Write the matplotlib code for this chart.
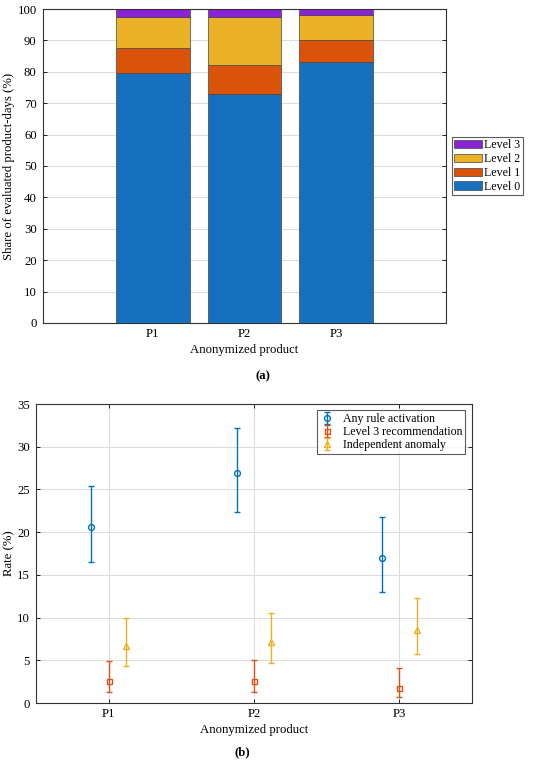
import numpy as np
import matplotlib
matplotlib.use('Agg')
import matplotlib.pyplot as plt

plt.rcParams['font.family'] = ['Liberation Serif', 'DejaVu Serif']

# panel (a) data
products = ['P1', 'P2', 'P3']
level0 = [79.5, 73.0, 83.0]
level1 = [8.2, 9.1, 7.1]
level2 = [9.8, 15.2, 8.1]
level3 = [2.5, 2.7, 1.8]
level_names = ['Level 0', 'Level 1', 'Level 2', 'Level 3']
level_colors = ['#1571C0', '#DA5309', '#ECB227', '#8A22D6']

# panel (b) data
series_names = ['Any rule activation', 'Level 3 recommendation', 'Independent anomaly']
any_rate = [20.6, 26.95, 16.95]
any_lo = [16.5, 22.3, 13.05]
any_hi = [25.35, 32.2, 21.8]
l3_rate = [2.54, 2.58, 1.76]
l3_lo = [1.25, 1.29, 0.74]
l3_hi = [4.92, 5.04, 4.1]
ind_rate = [6.68, 7.15, 8.52]
ind_lo = [4.38, 4.73, 5.78]
ind_hi = [9.96, 10.59, 12.34]
series_colors = ['#0072BD', '#D95319', '#EDB120']
series_markers = ['o', 's', '^']

W, H = 550, 763
fig = plt.figure(figsize=(W / 100, H / 100), dpi=100)

def box(l, t, r, b):
    return [l / W, 1 - b / H, (r - l) / W, (b - t) / H]

def style(ax):
    ax.tick_params(direction='in', top=True, right=True, labelsize=9.2, length=3, width=0.6)
    ax.tick_params(axis='y', pad=4.5)
    for s in ax.spines.values():
        s.set_linewidth(0.8)
        s.set_color('#333333')
    ax.set_axisbelow(True)

# ---- (a) stacked bars
ax1 = fig.add_axes(box(43, 9, 446, 323))
x = np.arange(1, 4)
bottom = np.zeros(3)
handles = []
for vals, name, c in zip([level0, level1, level2, level3], level_names, level_colors):
    h = ax1.bar(x, vals, 0.8, bottom=bottom, color=c, edgecolor='#444444', linewidth=0.5, label=name)
    handles.append(h)
    bottom += np.array(vals)
ax1.set_xlim(-0.2, 4.2)
ax1.set_ylim(0, 100)
ax1.set_yticks(range(0, 101, 10))
ax1.set_xticks(x)
ax1.set_xticklabels(products)
ax1.yaxis.grid(True, color='#dddddd', linewidth=0.8)
style(ax1)
ax1.set_ylabel('Share of evaluated product-days (%)', fontsize=9.2)
ax1.yaxis.set_label_coords((15 - 43) / 403, 0.5)
ax1.set_xlabel('Anonymized product', fontsize=9.2, labelpad=3)
leg = ax1.legend(handles[::-1], level_names[::-1], loc='center left', bbox_to_anchor=(1.015, 0.5),
                 fontsize=8.6, frameon=True, fancybox=False, edgecolor='#333333',
                 borderpad=0.2, labelspacing=0.15, handlelength=2.3, handletextpad=0.2,
                 borderaxespad=0)
leg.get_frame().set_linewidth(0.8)
fig.text(263 / W, 1 - 376 / H, '(a)', ha='center', va='center', fontsize=9.2, fontweight='bold')

# ---- (b) error bars
ax2 = fig.add_axes(box(36, 404, 472, 703))
offsets = [-0.12, 0.0, 0.12]
sizes = [4.2, 3.6, 4.6]
for rate, lo, hi, name, c, m, off, ms in zip([any_rate, l3_rate, ind_rate], [any_lo, l3_lo, ind_lo],
                                             [any_hi, l3_hi, ind_hi], series_names, series_colors,
                                             series_markers, offsets, sizes):
    rate = np.array(rate)
    err = [rate - np.array(lo), np.array(hi) - rate]
    ax2.errorbar(x + off, rate, yerr=err, fmt=m, color=c, markerfacecolor='none',
                 markersize=ms, capsize=2.5, elinewidth=1.0, capthick=1.0,
                 markeredgewidth=1.0, label=name)
ax2.set_xlim(0.5, 3.5)
ax2.set_ylim(0, 35)
ax2.set_yticks(range(0, 36, 5))
ax2.set_xticks(x)
ax2.set_xticklabels(products)
ax2.grid(True, color='#dddddd', linewidth=0.8)
style(ax2)
ax2.set_ylabel('Rate (%)', fontsize=9.2)
ax2.yaxis.set_label_coords((15 - 36) / 436, 0.5)
ax2.set_xlabel('Anonymized product', fontsize=9.2, labelpad=3)
leg2 = ax2.legend(loc='upper right', bbox_to_anchor=(0.985, 0.98), fontsize=8.6, frameon=True,
                  fancybox=False, edgecolor='#333333', borderpad=0.25, labelspacing=0.1,
                  handlelength=1.2, handletextpad=0.75, borderaxespad=0)
leg2.get_frame().set_linewidth(0.8)
fig.text(242 / W, 1 - 752 / H, '(b)', ha='center', va='center', fontsize=9.2, fontweight='bold')

fig.savefig('out.png', dpi=100, facecolor='white')
